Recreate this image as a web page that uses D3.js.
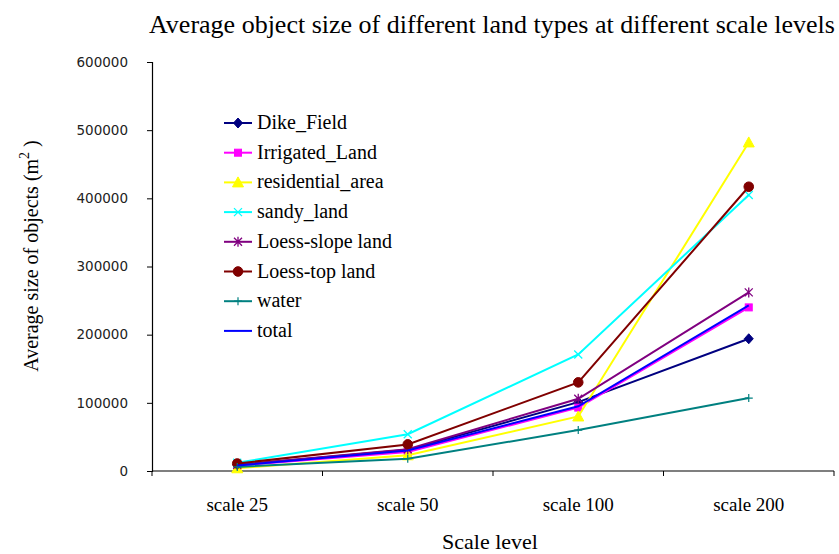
<!DOCTYPE html>
<html>
<head>
<meta charset="utf-8">
<script src="https://cdn.jsdelivr.net/npm/d3@7"></script>
<style>
  html, body { margin: 0; padding: 0; background: #fff; }
  svg { display: block; }
</style>
</head>
<body>
<svg id="chart" width="839" height="554"></svg>
<script>
// Scale levels along the x axis
const scaleLevels = ["scale 25", "scale 50", "scale 100", "scale 200"];

// Average object size (m^2) per land type at each scale level
const dikeField       = [9000, 31000, 101000, 194000];
const irrigatedLand   = [8000, 28000, 93000, 240000];
const residentialArea = [4000, 23000, 80000, 482000];
const sandyLand       = [12000, 54000, 171000, 405000];
const loessSlopeLand  = [9000, 32000, 106000, 262000];
const loessTopLand    = [11000, 39000, 130000, 417000];
const water           = [6000, 18000, 60000, 107000];
const total           = [8000, 30000, 95000, 243000];

const seriesNames = ["Dike_Field", "Irrigated_Land", "residential_area", "sandy_land",
                     "Loess-slope land", "Loess-top land", "water", "total"];
const seriesValues = [dikeField, irrigatedLand, residentialArea, sandyLand,
                      loessSlopeLand, loessTopLand, water, total];
const seriesColors = ["#000080", "#ff00ff", "#ffff00", "#00ffff",
                      "#800080", "#800000", "#008080", "#0000ff"];
const seriesMarkers = ["diamond", "square", "triangle", "x", "asterisk", "circle", "plus", "none"];

const yTicks = [0, 100000, 200000, 300000, 400000, 500000, 600000];

const svg = d3.select("#chart");
const serif = "Liberation Serif, Times New Roman, serif";
const plotLeft = 152, plotRight = 834;

const x = d3.scaleBand().domain(scaleLevels).range([plotLeft, plotRight]).paddingInner(0).paddingOuter(0);
const y = d3.scaleLinear().domain([0, 600000]).range([471, 62]);

// Title
svg.append("text")
  .attr("x", 149).attr("y", 33)
  .attr("font-family", serif)
  .attr("font-size", 26)
  .attr("fill", "#000")
  .text("Average object size of different land types at different scale levels");

// Y axis
const yAxis = d3.axisLeft(y).tickValues(yTicks).tickSize(5).tickSizeOuter(5)
  .tickFormat(d3.format("d"));
const gy = svg.append("g").attr("transform", `translate(${plotLeft},0)`).call(yAxis);
gy.select(".domain").attr("stroke", "#000").attr("stroke-width", 1.2);
gy.selectAll(".tick line").attr("stroke", "#000");
gy.selectAll(".tick text")
  .attr("font-family", "DejaVu Sans, Verdana, sans-serif")
  .attr("font-size", 13.5)
  .attr("fill", "#222")
  .attr("text-anchor", "end")
  .attr("x", -24);

// X axis: ticks at band boundaries, labels centred in bands
const xLine = svg.append("g");
xLine.append("line")
  .attr("x1", plotLeft).attr("x2", plotRight)
  .attr("y1", y(0)).attr("y2", y(0))
  .attr("stroke", "#000").attr("stroke-width", 1.2);
const boundaries = scaleLevels.map(d => x(d)).concat([x(scaleLevels[scaleLevels.length - 1]) + x.bandwidth()]);
xLine.selectAll("line.tk").data(boundaries).enter().append("line")
  .attr("class", "tk")
  .attr("x1", d => d).attr("x2", d => d)
  .attr("y1", y(0)).attr("y2", y(0) + 5)
  .attr("stroke", "#000");
xLine.selectAll("text").data(scaleLevels).enter().append("text")
  .attr("x", d => x(d) + x.bandwidth() / 2)
  .attr("y", 511)
  .attr("text-anchor", "middle")
  .attr("font-family", serif)
  .attr("font-size", 19)
  .attr("fill", "#000")
  .text(d => d);

// Axis titles
svg.append("text")
  .attr("x", 490).attr("y", 549)
  .attr("text-anchor", "middle")
  .attr("font-family", serif)
  .attr("font-size", 22)
  .text("Scale level");

const yt = svg.append("text")
  .attr("transform", "translate(38,256) rotate(-90)")
  .attr("text-anchor", "middle")
  .attr("font-family", serif)
  .attr("font-size", 20);
yt.append("tspan").text("Average size of objects (m");
yt.append("tspan").attr("dy", -9).attr("font-size", 14).text("2");
yt.append("tspan").attr("dy", 9).text(" )");

// Marker drawing
function drawMarker(g, type, color, cx, cy) {
  const s = 4.5;
  if (type === "diamond") {
    g.append("path").attr("d", `M${cx},${cy - s - 0.5}L${cx + s},${cy}L${cx},${cy + s + 0.5}L${cx - s},${cy}Z`)
      .attr("fill", color).attr("stroke", color);
  } else if (type === "square") {
    g.append("rect").attr("x", cx - 3.5).attr("y", cy - 3.5).attr("width", 7).attr("height", 7)
      .attr("fill", color).attr("stroke", color);
  } else if (type === "triangle") {
    g.append("path").attr("d", `M${cx},${cy - 5.5}L${cx + 5.5},${cy + 4.5}L${cx - 5.5},${cy + 4.5}Z`)
      .attr("fill", color).attr("stroke", color);
  } else if (type === "x") {
    g.append("path").attr("d", `M${cx - 4},${cy - 4}L${cx + 4},${cy + 4}M${cx - 4},${cy + 4}L${cx + 4},${cy - 4}`)
      .attr("stroke", color).attr("stroke-width", 1.3).attr("fill", "none");
  } else if (type === "asterisk") {
    g.append("path").attr("d", `M${cx - 4},${cy - 4}L${cx + 4},${cy + 4}M${cx - 4},${cy + 4}L${cx + 4},${cy - 4}M${cx},${cy - 5}L${cx},${cy + 5}`)
      .attr("stroke", color).attr("stroke-width", 1.3).attr("fill", "none");
  } else if (type === "circle") {
    g.append("circle").attr("cx", cx).attr("cy", cy).attr("r", 4.8)
      .attr("fill", color).attr("stroke", color);
  } else if (type === "plus") {
    g.append("path").attr("d", `M${cx - 4},${cy}L${cx + 4},${cy}M${cx},${cy - 4}L${cx},${cy + 4}`)
      .attr("stroke", color).attr("stroke-width", 1.2).attr("fill", "none");
  }
}

// Series lines and markers
const line = d3.line()
  .x((d, i) => x(scaleLevels[i]) + x.bandwidth() / 2)
  .y(d => y(d));

seriesValues.forEach((vals, k) => {
  const g = svg.append("g");
  g.append("path").datum(vals)
    .attr("d", line)
    .attr("fill", "none")
    .attr("stroke", seriesColors[k])
    .attr("stroke-width", 2);
  vals.forEach((v, i) => drawMarker(g, seriesMarkers[k], seriesColors[k],
    x(scaleLevels[i]) + x.bandwidth() / 2, y(v)));
});

// Legend
const legend = svg.append("g");
seriesNames.forEach((name, k) => {
  const ly = 123 + k * 29.7;
  legend.append("line")
    .attr("x1", 224).attr("x2", 252).attr("y1", ly).attr("y2", ly)
    .attr("stroke", seriesColors[k]).attr("stroke-width", 2);
  drawMarker(legend, seriesMarkers[k], seriesColors[k], 238, ly);
  legend.append("text")
    .attr("x", 257).attr("y", ly + 6)
    .attr("font-family", serif)
    .attr("font-size", 20)
    .attr("fill", "#000")
    .text(name);
});
</script>
</body>
</html>
